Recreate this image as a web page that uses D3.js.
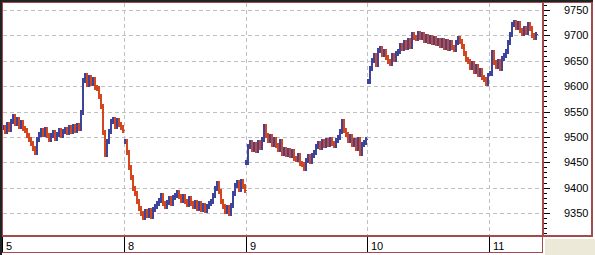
<!DOCTYPE html>
<html>
<head>
<meta charset="utf-8">
<script src="https://cdn.jsdelivr.net/npm/d3@7"></script>
<style>
  html, body { margin: 0; padding: 0; background: #fff; }
  svg { display: block; }
  text { font-family: "Liberation Sans", Arial, sans-serif; font-size: 11px; fill: #000; }
</style>
</head>
<body>
<svg id="chart" width="595" height="255"></svg>
<script>
// day labels on the time axis (trading days, weekend skipped)
const dayLabels = ['5', '8', '9', '10', '11'];
const yTicks = [9350, 9400, 9450, 9500, 9550, 9600, 9650, 9700, 9750];

// closing prices, one per slot
const day5 = [9520, 9512, 9526, 9516, 9532, 9542, 9528, 9536, 9522, 9530,
  9518, 9514, 9504, 9496, 9488, 9478, 9470, 9496, 9506, 9514,
  9506, 9516, 9504, 9496, 9504, 9510, 9498, 9506, 9514, 9504,
  9512, 9516, 9510, 9520, 9512, 9522, 9514, 9524, 9518, 9550,
  9612, 9622, 9604, 9618, 9606, 9614, 9598, 9596, 9580, 9560,
  9510, 9466, 9492, 9512, 9532, 9536, 9522, 9534, 9526, 9520, 9514];
const day8 = [9492, 9470, 9440, 9420, 9400, 9390, 9374, 9360, 9350, 9342,
  9354, 9346, 9356, 9344, 9358, 9364, 9370, 9376, 9386, 9370,
  9364, 9372, 9380, 9370, 9382, 9386, 9392, 9384, 9376, 9384,
  9374, 9368, 9380, 9370, 9364, 9372, 9360, 9370, 9358, 9366,
  9356, 9364, 9370, 9374, 9386, 9400, 9410, 9394, 9374, 9364,
  9354, 9362, 9350, 9366, 9390, 9406, 9412, 9398, 9414, 9404, 9396];
const day9 = [9450, 9482, 9490, 9476, 9486, 9474, 9490, 9480, 9496, 9522,
  9504, 9494, 9502, 9486, 9496, 9484, 9476, 9492, 9468, 9476,
  9466, 9474, 9464, 9472, 9458, 9456, 9464, 9448, 9446, 9438,
  9454, 9462, 9452, 9464, 9470, 9482, 9488, 9480, 9492, 9484,
  9494, 9486, 9496, 9488, 9484, 9494, 9500, 9512, 9532, 9514,
  9506, 9494, 9502, 9486, 9494, 9478, 9496, 9468, 9486, 9490, 9496];
const day10 = [9610, 9636, 9652, 9662, 9644, 9672, 9676, 9664, 9670, 9658,
  9650, 9646, 9662, 9654, 9666, 9670, 9682, 9676, 9686, 9678,
  9690, 9680, 9702, 9696, 9694, 9704, 9696, 9702, 9690, 9698,
  9688, 9696, 9686, 9694, 9684, 9690, 9682, 9690, 9678, 9688,
  9676, 9686, 9678, 9674, 9686, 9694, 9688, 9680, 9666, 9654,
  9650, 9638, 9646, 9630, 9640, 9624, 9632, 9618, 9614, 9606, 9622];
const day11 = [9625, 9668, 9648, 9640, 9650, 9636, 9656, 9662, 9670, 9686,
  9702, 9722, 9726, 9716, 9724, 9710, 9704, 9714, 9706, 9722,
  9714, 9700, 9696, 9702];

const days = [day5, day8, day9, day10, day11];
const slotsPerDay = 61;

const W = 595, H = 255;
const plot = { left: 3, top: 3, right: 543, bottom: 236 };
const maroon = '#a44a4a';
const upColor = '#3c449c';
const downColor = '#d4461e';

const svg = d3.select('#chart');

const x = d3.scaleLinear()
  .domain([0, slotsPerDay * 5])
  .range([1.8, 1.8 + 121.85 * 5]);
const y = d3.scaleLinear()
  .domain([9304.7, 9763.8])
  .range([plot.bottom, plot.top]);

// build bars: open = previous close within the same day
const bars = [];
days.forEach((vals, d) => {
  vals.forEach((v, i) => {
    const open = i === 0 ? v : vals[i - 1];
    bars.push({ slot: d * slotsPerDay + i, open: open, close: v });
  });
});

// background
svg.append('rect').attr('width', W).attr('height', H).attr('fill', '#fff');

// beige corner
svg.append('rect').attr('x', 545).attr('y', 239).attr('width', 50).attr('height', 16).attr('fill', '#ece9d8');

// grid
const grid = svg.append('g').attr('stroke', '#c0c0c0').attr('stroke-dasharray', '4,3').attr('shape-rendering', 'crispEdges');
grid.selectAll('.hg').data(yTicks).enter().append('line')
  .attr('x1', plot.left).attr('x2', plot.right)
  .attr('y1', d => Math.round(y(d)) + 0.5).attr('y2', d => Math.round(y(d)) + 0.5);
grid.selectAll('.vg').data(dayLabels.slice(1)).enter().append('line')
  .attr('x1', (d, i) => Math.round(x((i + 1) * slotsPerDay)) + 0.5)
  .attr('x2', (d, i) => Math.round(x((i + 1) * slotsPerDay)) + 0.5)
  .attr('y1', plot.top).attr('y2', plot.bottom);

// price bars
svg.append('clipPath').attr('id', 'clip').append('rect')
  .attr('x', plot.left).attr('y', plot.top)
  .attr('width', plot.right - plot.left).attr('height', plot.bottom - plot.top);
const gb = svg.append('g').attr('clip-path', 'url(#clip)').attr('shape-rendering', 'crispEdges');
const bar = gb.selectAll('g.bar').data(bars).enter().append('g')
  .attr('stroke', d => d.close >= d.open ? upColor : downColor);
const cx = d => Math.round(x(d.slot + 0.5));
bar.append('line')
  .attr('x1', cx).attr('x2', cx)
  .attr('stroke-width', 2)
  .attr('y1', d => Math.round(y(Math.max(d.open, d.close))) - 2)
  .attr('y2', d => Math.round(y(Math.min(d.open, d.close))) + 3);
bar.append('line')
  .attr('x1', d => cx(d) + 1).attr('x2', d => cx(d) + 2)
  .attr('y1', d => Math.round(y(d.close)) + 0.5).attr('y2', d => Math.round(y(d.close)) + 0.5);

// frame
const frame = svg.append('g').attr('shape-rendering', 'crispEdges');
frame.append('rect').attr('x', 0).attr('y', 0).attr('width', 593).attr('height', 2).attr('fill', '#222');
frame.append('rect').attr('x', 0).attr('y', 2).attr('width', 593).attr('height', 1).attr('fill', maroon);
frame.append('rect').attr('x', 0).attr('y', 0).attr('width', 2).attr('height', H).attr('fill', '#222');
frame.append('rect').attr('x', 2).attr('y', 2).attr('width', 1).attr('height', 234).attr('fill', maroon);
// right axis panel border
frame.append('rect').attr('x', 542).attr('y', 2).attr('width', 2).attr('height', 235).attr('fill', maroon);
frame.append('rect').attr('x', 591).attr('y', 2).attr('width', 2).attr('height', 235).attr('fill', maroon);
frame.append('rect').attr('x', 542).attr('y', 235).attr('width', 51).attr('height', 2).attr('fill', maroon);
// time axis strip
frame.append('rect').attr('x', 2).attr('y', 235).attr('width', 541).attr('height', 2).attr('fill', maroon);
frame.append('rect').attr('x', 2).attr('y', 252).attr('width', 541).attr('height', 1).attr('fill', maroon);
frame.append('rect').attr('x', 542).attr('y', 235).attr('width', 1).attr('height', 18).attr('fill', maroon);

// right value axis
const yAxis = svg.append('g').attr('transform', `translate(${plot.right + 1},0)`)
  .call(d3.axisRight(y).tickValues(yTicks).tickSize(6).tickPadding(14).tickFormat(d3.format('d')));
yAxis.select('.domain').remove();
yAxis.selectAll('line').attr('stroke', '#000').attr('shape-rendering', 'crispEdges');
yAxis.selectAll('text').attr('font-size', 11).attr('font-family', '"Liberation Sans", Arial, sans-serif');
const minor = d3.range(9310, 9761, 10).filter(v => v % 50 !== 0);
const yMinor = svg.append('g').attr('transform', `translate(${plot.right + 1},0)`)
  .call(d3.axisRight(y).tickValues(minor).tickSize(3).tickFormat(''));
yMinor.select('.domain').remove();
yMinor.selectAll('line').attr('stroke', '#000').attr('shape-rendering', 'crispEdges');

// time axis ticks and labels
const xt = svg.append('g');
xt.selectAll('line').data(dayLabels).enter().append('line')
  .attr('x1', (d, i) => Math.round(x(i * slotsPerDay)) + 0.5)
  .attr('x2', (d, i) => Math.round(x(i * slotsPerDay)) + 0.5)
  .attr('y1', 237).attr('y2', 252)
  .attr('stroke', '#000').attr('shape-rendering', 'crispEdges');
xt.selectAll('text').data(dayLabels).enter().append('text')
  .attr('x', (d, i) => Math.round(x(i * slotsPerDay)) + 4)
  .attr('y', 250)
  .text(d => d);
</script>
</body>
</html>
